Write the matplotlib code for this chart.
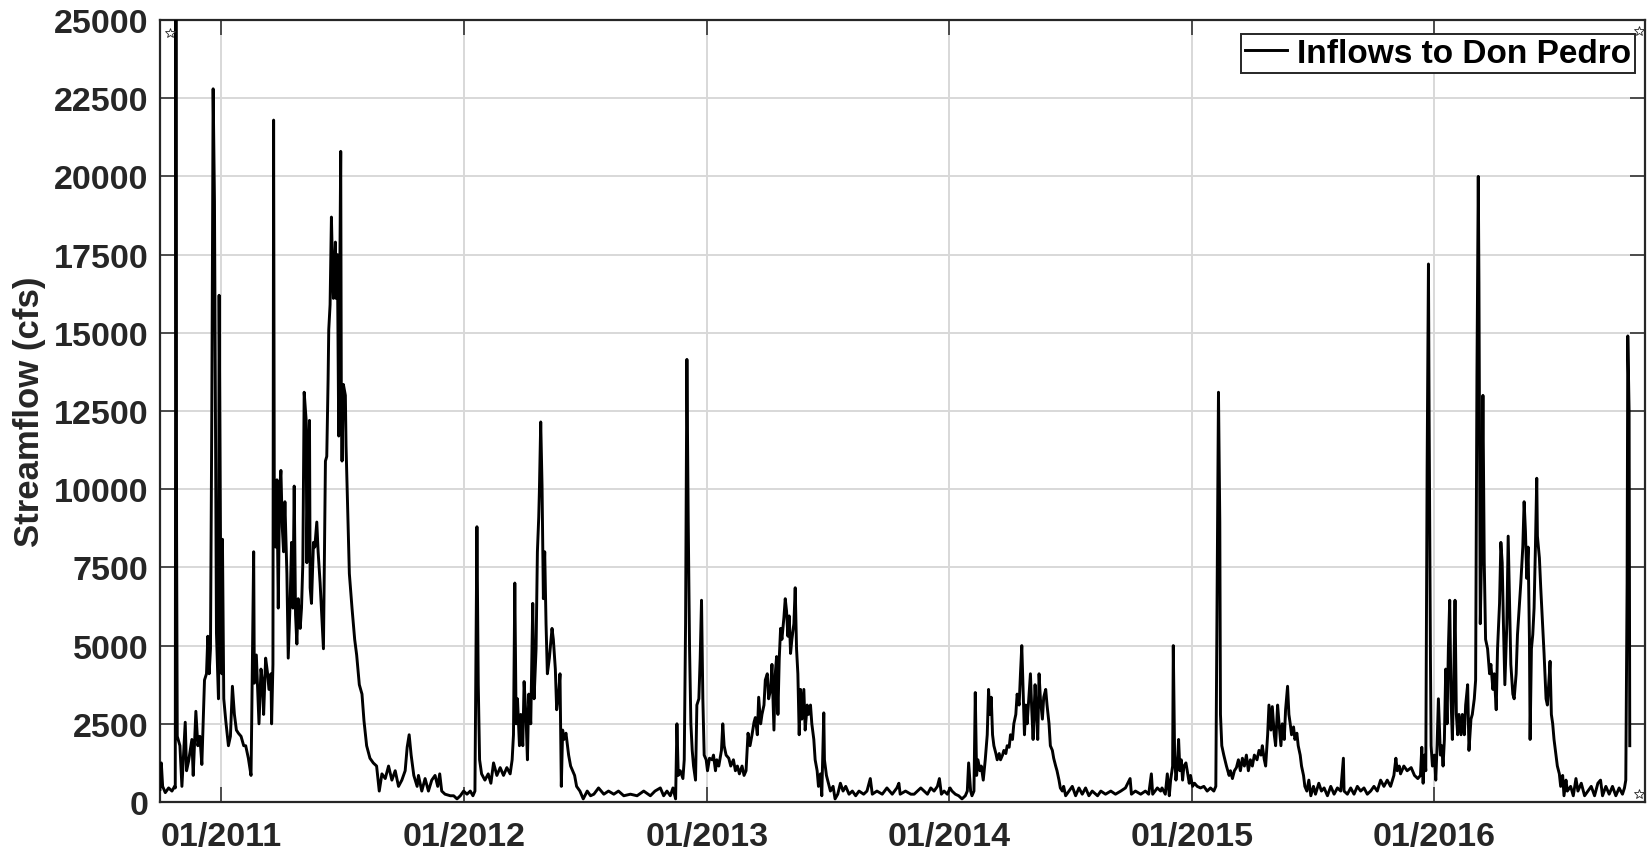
import matplotlib

matplotlib.use("Agg")
import matplotlib.dates as mdates
import matplotlib.pyplot as plt
import numpy as np
import pandas as pd

# Daily inflow to Don Pedro.
# Days are counted from START, values in cfs, one pair of lists per water year.
START = pd.Timestamp("2010-10-01")
X_END = pd.Timestamp("2016-11-13")

wy2011_day = [0, 2, 4, 8, 13, 18, 22, 23, 24, 25, 26, 30, 33, 38, 40, 43, 48, 50, 54, 57,
              60, 63, 67, 70, 72, 74, 76, 78, 80, 82, 84, 85, 88, 89, 91, 93, 94, 96, 99, 103,
              106, 109, 112, 115, 118, 122, 126, 129, 133, 137, 138, 141, 142, 145, 147, 149, 152, 154, 156, 159,
              162, 164, 167, 168, 170, 171, 172, 174, 176, 178, 180, 182, 184, 186, 188, 191, 193, 196, 198, 200,
              202, 204, 206, 208, 211, 213, 215, 217, 220, 221, 223, 225, 226, 228, 231, 233, 236, 238, 241, 244,
              246, 249, 251, 253, 254, 256, 258, 260, 261, 264, 265, 267, 269, 270, 272, 273, 274, 276, 279, 280,
              282, 285, 289, 293, 296, 300, 304, 307, 311, 316, 321, 326, 330, 334, 339, 344, 349, 354, 359, 364]
wy2011_flow = [400, 1250, 500, 300, 450, 350, 500, 450, 27000, 8600, 2100, 1800, 500, 2550, 1000, 1300, 2000, 850, 2900, 1800,
               2100, 1200, 3900, 4100, 5300, 4100, 4900, 12500, 22800, 19200, 10300, 5400, 3300, 16200, 8600, 4100, 8400, 3300, 2600, 1800,
               2100, 3700, 2800, 2300, 2200, 2100, 1800, 1800, 1400, 850, 2500, 8000, 3800, 4700, 3600, 2500, 4250, 3900, 2800, 4600,
               4100, 3600, 4100, 2500, 4400, 21800, 10100, 8150, 10300, 6200, 10000, 10600, 8800, 8000, 9600, 7300, 4600, 6500, 8300, 6200,
               10100, 6000, 5050, 6500, 5550, 6200, 7650, 13100, 12200, 7650, 11050, 12200, 6850, 6350, 8300, 8150, 8950, 8000, 7000, 5700,
               4900, 10900, 11050, 13500, 15100, 15900, 18700, 16750, 16100, 17900, 16100, 17500, 11700, 15100, 20800, 12200, 10900, 13350, 13000, 11400,
               9800, 7300, 6200, 5200, 4700, 3750, 3450, 2600, 1800, 1400, 1250, 1150, 350, 900, 750, 1150, 700, 1000, 500, 700]

wy2012_day = [369, 372, 375, 378, 382, 387, 389, 394, 399, 404, 409, 414, 418, 421, 424, 429, 437, 442, 447, 452,
              457, 462, 467, 471, 474, 477, 479, 481, 484, 489, 494, 498, 502, 507, 512, 517, 522, 527, 530, 532,
              534, 536, 538, 541, 543, 546, 548, 551, 553, 555, 558, 561, 563, 566, 568, 570, 571, 573, 575, 577,
              579, 581, 583, 586, 590, 592, 595, 597, 600, 602, 604, 606, 608, 611, 615, 618, 621, 624, 627, 632,
              637, 643, 648, 653, 660, 668, 675, 683, 690, 698, 708, 718, 728]
wy2012_flow = [1000, 1750, 2150, 1500, 850, 500, 850, 350, 750, 350, 700, 850, 500, 900, 350, 250, 200, 200, 100, 200,
               350, 250, 350, 200, 350, 8800, 3750, 1350, 900, 700, 900, 600, 1250, 850, 1100, 850, 1100, 900, 1350, 2150,
               7000, 2500, 3300, 1800, 2800, 1800, 3850, 2650, 1350, 3450, 2500, 6350, 3300, 4900, 8000, 9100, 9950, 12150, 10100, 6500,
               8000, 5700, 4100, 4600, 5550, 5200, 4250, 2950, 3450, 4100, 500, 2300, 2000, 2200, 1500, 1150, 1000, 850, 500, 350,
               100, 350, 200, 250, 450, 250, 350, 250, 350, 200, 250, 200, 350]

wy2013_day = [738, 745, 753, 758, 763, 768, 772, 776, 778, 780, 783, 787, 789, 791, 793, 795, 797, 799, 801, 803,
              806, 808, 811, 813, 815, 817, 819, 822, 824, 827, 831, 833, 836, 838, 841, 845, 847, 849, 852, 856,
              859, 863, 866, 869, 872, 876, 879, 882, 885, 888, 891, 894, 896, 899, 901, 904, 906, 909, 911, 914,
              916, 919, 921, 924, 926, 928, 930, 932, 934, 936, 939, 941, 943, 945, 947, 949, 951, 954, 956, 958,
              960, 962, 964, 966, 969, 971, 974, 976, 979, 981, 984, 986, 989, 991, 994, 996, 999, 1000, 1003, 1006,
              1009, 1013, 1016, 1020, 1024, 1028, 1032, 1037, 1042, 1047, 1052, 1059, 1064, 1069, 1072, 1079, 1087, 1094]
wy2013_flow = [200, 350, 450, 200, 350, 200, 450, 100, 2500, 850, 1000, 750, 1350, 5700, 14150, 8950, 4900, 2500, 1650, 1150,
               700, 3100, 3300, 4600, 6450, 3300, 1500, 1350, 1000, 1400, 1350, 1500, 1000, 1350, 1150, 1650, 2500, 1800, 1500, 1400,
               1150, 1350, 1000, 1150, 900, 1150, 850, 1000, 2200, 1800, 2150, 2550, 2700, 2150, 3350, 2500, 2800, 3100, 3900, 4100,
               3300, 3600, 4400, 2300, 4100, 4650, 2800, 4600, 5550, 5200, 5900, 6500, 6100, 5300, 5950, 4750, 5200, 5700, 6850, 4900,
               4100, 2150, 3600, 2650, 3600, 2300, 3100, 2800, 3100, 2500, 2000, 1350, 1000, 500, 900, 200, 2850, 1350, 850, 600,
               350, 500, 100, 250, 600, 350, 500, 250, 350, 200, 350, 250, 350, 750, 250, 350, 250, 450]

wy2014_day = [1102, 1109, 1112, 1114, 1122, 1130, 1135, 1140, 1145, 1150, 1155, 1160, 1165, 1170, 1173, 1176, 1180, 1185, 1189, 1192,
              1197, 1202, 1207, 1212, 1215, 1217, 1220, 1222, 1225, 1227, 1229, 1231, 1234, 1236, 1239, 1242, 1245, 1247, 1249, 1251,
              1253, 1255, 1258, 1260, 1263, 1265, 1268, 1270, 1273, 1275, 1278, 1280, 1283, 1285, 1288, 1290, 1293, 1295, 1297, 1299,
              1301, 1303, 1305, 1308, 1310, 1312, 1314, 1317, 1319, 1321, 1323, 1325, 1328, 1330, 1333, 1335, 1338, 1340, 1343, 1345,
              1348, 1350, 1353, 1355, 1358, 1360, 1363, 1368, 1373, 1378, 1383, 1388, 1393, 1398, 1403, 1411, 1416, 1423, 1431, 1438,
              1446, 1453, 1460]
wy2014_flow = [250, 450, 600, 250, 350, 250, 250, 350, 450, 350, 250, 450, 350, 500, 750, 250, 350, 250, 450, 350,
               250, 200, 100, 200, 350, 1250, 350, 200, 350, 3500, 850, 1350, 1000, 1150, 700, 1350, 2150, 3600, 2800, 3350,
               2150, 1800, 1550, 1350, 1550, 1350, 1500, 1650, 1550, 1800, 1750, 2150, 2000, 2500, 2800, 3450, 3100, 4100, 5000, 3600,
               2150, 3100, 2500, 3450, 4100, 2950, 2000, 3750, 2800, 2000, 4100, 3300, 2650, 3350, 3600, 3100, 2500, 1800, 1650, 1400,
               1150, 1000, 700, 450, 350, 500, 200, 350, 500, 200, 450, 250, 450, 200, 350, 200, 350, 250, 350, 250,
               350, 450, 750]

wy2015_day = [1462, 1468, 1476, 1483, 1488, 1492, 1494, 1501, 1506, 1508, 1513, 1516, 1519, 1521, 1524, 1525, 1527, 1529, 1531, 1533,
              1535, 1537, 1539, 1541, 1544, 1546, 1549, 1551, 1554, 1557, 1561, 1566, 1571, 1576, 1581, 1586, 1589, 1591, 1593, 1595,
              1596, 1598, 1601, 1605, 1609, 1611, 1614, 1617, 1620, 1623, 1626, 1629, 1632, 1635, 1638, 1641, 1644, 1647, 1651, 1654,
              1657, 1659, 1662, 1664, 1667, 1669, 1672, 1674, 1677, 1679, 1682, 1684, 1687, 1689, 1692, 1694, 1697, 1699, 1701, 1703,
              1706, 1708, 1711, 1713, 1716, 1718, 1721, 1723, 1726, 1729, 1732, 1736, 1739, 1744, 1748, 1752, 1757, 1762, 1767, 1772,
              1777, 1781, 1782, 1787, 1792, 1797, 1802, 1807, 1812, 1817, 1822]
wy2015_flow = [250, 350, 250, 350, 250, 900, 250, 450, 350, 450, 250, 900, 200, 700, 1150, 5000, 1500, 700, 1150, 2000,
               1000, 1350, 700, 1150, 1250, 1000, 600, 850, 500, 600, 500, 450, 500, 350, 450, 350, 500, 6700, 13100, 8950,
               2800, 1800, 1500, 1150, 850, 1000, 750, 1000, 1100, 1350, 1000, 1400, 1150, 1500, 1000, 1350, 1150, 1500, 1350, 1650,
               1500, 1800, 1350, 1150, 2150, 3100, 2300, 3050, 2150, 1800, 3100, 2550, 1800, 2500, 2000, 2950, 3700, 2800, 2500, 2150,
               2400, 2000, 2200, 1800, 1500, 1150, 850, 500, 350, 700, 200, 500, 250, 600, 350, 450, 200, 500, 250, 450,
               350, 1400, 350, 250, 450, 250, 500, 350, 450, 250, 350]

wy2016_day = [1827, 1832, 1837, 1842, 1847, 1852, 1857, 1860, 1862, 1865, 1867, 1872, 1877, 1883, 1888, 1893, 1897, 1899, 1901, 1903,
              1905, 1907, 1909, 1910, 1912, 1913, 1915, 1918, 1920, 1922, 1924, 1927, 1929, 1931, 1933, 1935, 1937, 1939, 1941, 1943,
              1945, 1947, 1949, 1951, 1953, 1955, 1958, 1960, 1963, 1965, 1968, 1970, 1973, 1975, 1978, 1980, 1982, 1984, 1985, 1987,
              1989, 1991, 1993, 1995, 1998, 2001, 2003, 2006, 2008, 2011, 2013, 2016, 2018, 2020, 2022, 2024, 2027, 2029, 2031, 2033,
              2036, 2038, 2041, 2043, 2046, 2048, 2051, 2053, 2055, 2057, 2059, 2061, 2062, 2064, 2066, 2068, 2070, 2072, 2073, 2076,
              2078, 2081, 2083, 2086, 2088, 2091, 2092, 2094, 2096, 2098, 2101, 2103, 2106, 2108, 2111, 2113, 2116, 2118, 2123, 2127,
              2131, 2134, 2139, 2144, 2149, 2154, 2159, 2164, 2168, 2171, 2176, 2181, 2186, 2191]
wy2016_flow = [500, 350, 700, 500, 700, 500, 850, 1400, 1000, 1150, 900, 1150, 1000, 1100, 850, 750, 850, 1750, 600, 1500,
               1000, 10600, 17200, 12500, 4600, 1800, 1150, 1500, 700, 1800, 3300, 1500, 1800, 1150, 2000, 4250, 2500, 4900, 6450, 3300,
               2000, 3750, 6450, 2800, 2150, 2800, 2150, 2800, 2150, 3100, 3750, 1650, 2650, 2800, 3300, 3900, 13650, 20000, 16600, 5700,
               8000, 13000, 7650, 5200, 4900, 4100, 4400, 3600, 4100, 2950, 4900, 6350, 8300, 7650, 5550, 3750, 5700, 8500, 6500, 4400,
               3450, 3300, 4100, 5350, 6350, 7000, 8150, 9600, 8650, 7150, 8150, 5200, 2000, 4900, 5350, 6200, 8150, 10350, 8500, 7800,
               6850, 5550, 4750, 3300, 3100, 4100, 4500, 2800, 2500, 2000, 1500, 1150, 900, 500, 850, 200, 700, 350, 500, 200,
               750, 350, 600, 200, 350, 500, 200, 600, 700, 200, 500, 250, 500, 200]

wy2017_day = [2196, 2201, 2204, 2206, 2208, 2209, 2211, 2212]
wy2017_flow = [450, 250, 450, 700, 7000, 14900, 12500, 1800]

# small star markers sitting in three corners of the plot box
star_day = [15, 2226, 2226]
star_flow = [24600, 24650, 260]

year_ticks = ["2011-01-01", "2012-01-01", "2013-01-01", "2014-01-01", "2015-01-01", "2016-01-01"]
flow_ticks = list(range(0, 25001, 2500))

INK = "#262626"
plt.rcParams["font.family"] = ["Liberation Sans", "DejaVu Sans"]
plt.rcParams["font.weight"] = "bold"
plt.rcParams["axes.labelweight"] = "bold"


def to_dates(days):
    return START + pd.to_timedelta(np.asarray(days), unit="D")


days = (wy2011_day + wy2012_day + wy2013_day + wy2014_day
        + wy2015_day + wy2016_day + wy2017_day)
flow = (wy2011_flow + wy2012_flow + wy2013_flow + wy2014_flow
        + wy2015_flow + wy2016_flow + wy2017_flow)

fig = plt.figure(figsize=(16.51, 8.54), dpi=100)
ax = fig.add_axes([0.0969, 0.0597, 0.8995, 0.9157])

ax.plot(to_dates(days), flow, color="black", lw=2.1, label="Inflows to Don Pedro", zorder=3)
ax.plot(to_dates(star_day), star_flow, ls="none", marker="*", ms=7,
        mfc="white", mec=INK, mew=0.6, zorder=4)

ax.set_xlim(START, X_END)
ax.set_ylim(0, 25000)
ax.set_xticks(pd.to_datetime(year_ticks))
ax.xaxis.set_major_formatter(mdates.DateFormatter("%m/%Y"))
ax.set_yticks(flow_ticks)

ax.grid(True, color="#d8d8d8", lw=1.4)
ax.set_axisbelow(True)
for s in ax.spines.values():
    s.set_color(INK)
    s.set_linewidth(1.6)

ax.tick_params(direction="in", length=10.8, width=1.1, color=INK, labelcolor=INK,
               top=True, right=True, labelsize=24.5)
ax.tick_params(axis="y", pad=8.5)
ax.tick_params(axis="x", pad=14)
ax.set_ylabel("Streamflow (cfs)", fontsize=25, color=INK, labelpad=5)

leg = ax.legend(loc="upper right", bbox_to_anchor=(0.9933, 0.9821), borderaxespad=0,
                fontsize=24, frameon=True, fancybox=False, framealpha=1,
                edgecolor=INK, handlelength=1.25, handletextpad=0.3, borderpad=0.12)
leg.get_frame().set_linewidth(1.4)
for t in leg.get_texts():
    t.set_color("black")

fig.savefig("out.png", dpi=100)
